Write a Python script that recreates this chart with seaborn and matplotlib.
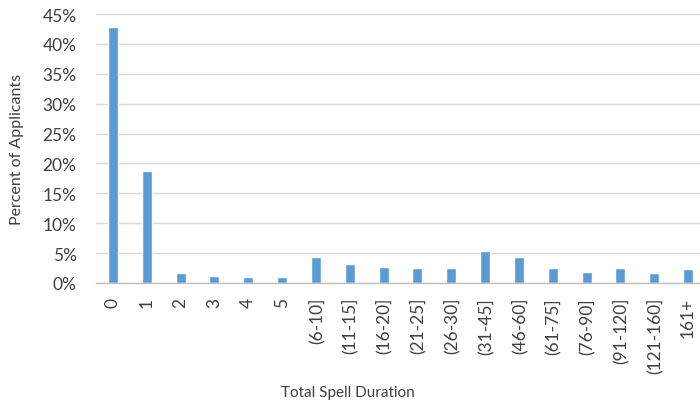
import matplotlib
matplotlib.use("Agg")
import matplotlib.pyplot as plt
import seaborn as sns
import pandas as pd
from matplotlib.ticker import PercentFormatter

categories = ["0", "1", "2", "3", "4", "5", "(6-10]", "(11-15]", "(16-20]", "(21-25]",
              "(26-30]", "(31-45]", "(46-60]", "(61-75]", "(76-90]", "(91-120]",
              "(121-160]", "161+"]
percent = [42.8, 18.8, 1.6, 1.2, 1.0, 1.0, 4.3, 3.2, 2.7, 2.5,
           2.5, 5.4, 4.3, 2.5, 1.9, 2.5, 1.7, 2.3]
yticks = [0, 5, 10, 15, 20, 25, 30, 35, 40, 45]

df = pd.DataFrame({"cat": categories, "pct": percent})

sns.set_theme(style="white")
plt.rcParams["font.family"] = ["Lato", "DejaVu Sans"]

W, H = 700, 402
fig = plt.figure(figsize=(7.0, 4.02), dpi=100)
ax = fig.add_axes([96 / W, 1 - 284 / H, 609 / W, 269 / H])

sns.barplot(data=df, x="cat", y="pct", color="#5B9BD5", width=0.3,
            saturation=1, ax=ax, zorder=3)

ax.set_ylim(0, 45)
ax.set_xlim(-0.5, len(categories) - 0.5)
ax.set_yticks(yticks)
ax.yaxis.set_major_formatter(PercentFormatter(decimals=0))
ax.grid(axis="y", color="#d9d9d9", linewidth=1, zorder=0)
ax.grid(axis="x", visible=False)
for s in ["top", "right", "left"]:
    ax.spines[s].set_visible(False)
ax.spines["bottom"].set_color("#bfbfbf")
ax.spines["bottom"].set_linewidth(1)
ax.spines["bottom"].set_zorder(4)

ax.tick_params(axis="y", length=0, pad=14, labelsize=12.5, labelcolor="#404040")
ax.tick_params(axis="x", length=0, pad=10, labelsize=12.5, labelcolor="#404040",
               rotation=90)

ax.set_xlabel("")
ax.set_ylabel("Percent of Applicants", fontsize=11.5, color="#404040")
ax.yaxis.set_label_coords(-(96 - 24) / 609, 0.5)

fig.text(348 / W, 1 - 393 / H, "Total Spell Duration", ha="center", va="center",
         fontsize=11, color="#404040")

fig.savefig("out.png", dpi=100)
